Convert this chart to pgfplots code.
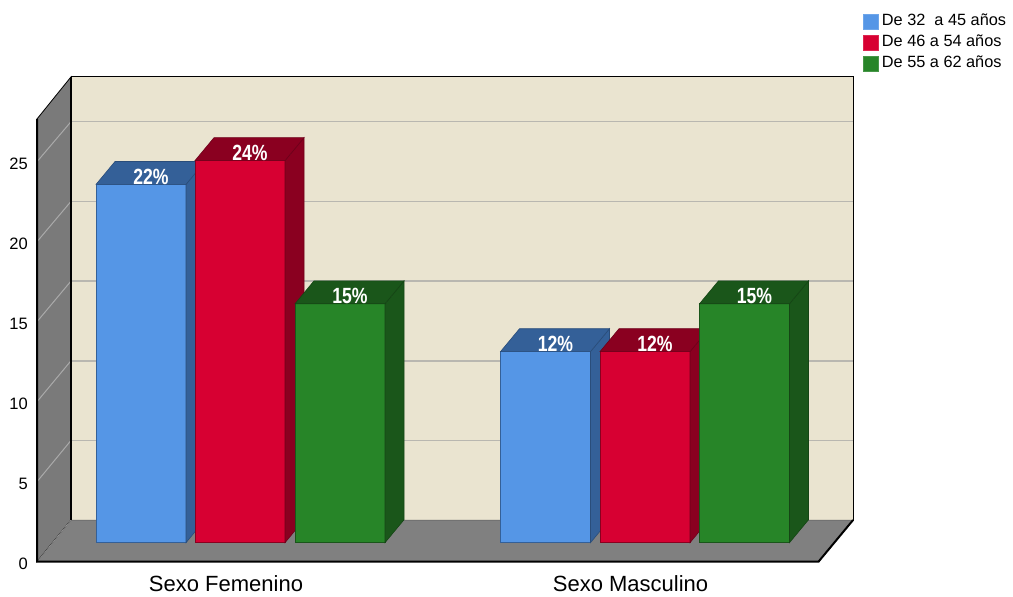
\documentclass[border=0pt]{standalone}
\usepackage{pgfplots}
\pgfplotsset{compat=1.18}
\usepackage{fontspec}
\setmainfont{Liberation Sans}
\definecolor{cblue}{RGB}{85,150,230}
\definecolor{cblueS}{RGB}{52,96,152}
\definecolor{cred}{RGB}{215,0,50}
\definecolor{credS}{RGB}{138,0,32}
\definecolor{cgreen}{RGB}{39,133,40}
\definecolor{cgreenS}{RGB}{26,86,26}
\definecolor{wallc}{RGB}{234,228,208}
\definecolor{floorc}{RGB}{128,128,128}
\definecolor{lwallc}{RGB}{122,122,122}
\definecolor{gridc}{RGB}{185,183,176}
\definecolor{lgridc}{RGB}{170,170,170}
\pgfplotsset{
  mylegend/.style={legend image code/.code={\draw[##1] (0pt,-7.5pt) rectangle (15pt,7.5pt);}}
}
\tikzset{barlabel/.style={text=white, font=\bfseries\fontsize{22}{22}\selectfont, xscale=0.8, transform shape, inner sep=0pt}}
% #1 x of front-left edge, #2 value, #3 front colour, #4 side colour, #5 label
\newcommand{\cube}[5]{%
  \pgfmathsetmacro\xa{#1}%
  \pgfmathsetmacro\xb{#1+90}%
  \pgfmathsetmacro\xc{#1+90+19}%
  \pgfmathsetmacro\xd{#1+19}%
  \pgfmathsetmacro\ya{1.19}%
  \pgfmathsetmacro\yb{1.19+#2}%
  \pgfmathsetmacro\yc{1.19+#2+1.43}%
  \pgfmathsetmacro\ye{1.19+1.43}%
  \pgfmathsetmacro\xm{#1+55}%
  \pgfmathsetmacro\ym{1.19+#2+0.48}%
  \edef\temp{%
    \noexpand\addplot[fill=#3, draw=#4, line width=0.6pt] coordinates {(\xa,\ya) (\xb,\ya) (\xb,\yb) (\xa,\yb)} -- cycle;
    \noexpand\addplot[fill=#4, draw=#4!80!black, line width=0.6pt] coordinates {(\xb,\ya) (\xc,\ye) (\xc,\yc) (\xb,\yb)} -- cycle;
    \noexpand\addplot[fill=#4, draw=#4!80!black, line width=0.6pt] coordinates {(\xa,\yb) (\xb,\yb) (\xc,\yc) (\xd,\yc)} -- cycle;
    \noexpand\node[barlabel] at (axis cs:\xm,\ym) {#5\noexpand\%};
  }\temp
}
\begin{document}
\begin{tikzpicture}
\useasboundingbox (0,0) rectangle (1013pt,597pt);
\begin{axis}[
  at={(37pt,35.3pt)}, anchor=south west,
  scale only axis, width=816pt, height=484.8pt,
  xmin=37, xmax=853, ymin=0, ymax=30.3,
  clip=false, no markers,
  axis line style={draw=none}, major tick length=0pt, tick style={draw=none},
  ytick={0,5,10,15,20,25},
  yticklabel style={anchor=base east, yshift=-8pt, xshift=-9pt, inner sep=0pt, font=\fontsize{16.5}{16.5}\selectfont},
  /pgf/number format/assume math mode=true,
  xtick={226,630.5},
  xticklabels={Sexo Femenino, Sexo Masculino},
  xticklabel style={anchor=base, yshift=-29.8pt, inner sep=0pt, font=\fontsize{22}{22}\selectfont},
  legend style={draw=none, fill=none, at={(axis cs:862.3,34.275)}, anchor=north west,
    inner sep=0pt, row sep=3.7pt, column sep=3pt,
    nodes={inner sep=1pt, text depth=3.5pt, text height=11.5pt},
    font=\fontsize{16.3}{16.3}\selectfont},
  legend cell align=left,
]
\addlegendimage{mylegend, fill=cblue, draw=cblue!85!white}
\addlegendentry{De 32\ \ a 45 años}
\addlegendimage{mylegend, fill=cred, draw=cred!85!white}
\addlegendentry{De 46 a 54 años}
\addlegendimage{mylegend, fill=cgreen, draw=cgreen!85!white}
\addlegendentry{De 55 a 62 años}
% left wall
\addplot[fill=lwallc, draw=black, line width=0.8pt] coordinates {(37,0) (71,2.6) (71,30.3) (37,27.67)} -- cycle;
% back wall
\addplot[fill=wallc, draw=black, line width=0.8pt] coordinates {(71,2.6) (853,2.6) (853,30.3) (71,30.3)} -- cycle;
% floor
\addplot[fill=floorc, draw=floorc!70!black, line width=0.6pt] coordinates {(37,0) (818.5,0) (853,2.6) (71,2.6)} -- cycle;
% grid on back wall
\addplot[gridc, line width=1.6pt] coordinates {(71.5,7.58) (852.5,7.58)};
\addplot[gridc, line width=1.6pt] coordinates {(71.5,12.56) (852.5,12.56)};
\addplot[gridc, line width=1.6pt] coordinates {(71.5,17.54) (852.5,17.54)};
\addplot[gridc, line width=1.6pt] coordinates {(71.5,22.52) (852.5,22.52)};
\addplot[gridc, line width=1.6pt] coordinates {(71.5,27.5) (852.5,27.5)};
% grid on left wall
\addplot[lgridc, line width=1pt] coordinates {(37,5) (71,7.58)};
\addplot[lgridc, line width=1pt] coordinates {(37,10) (71,12.56)};
\addplot[lgridc, line width=1pt] coordinates {(37,15) (71,17.54)};
\addplot[lgridc, line width=1pt] coordinates {(37,20) (71,22.52)};
\addplot[lgridc, line width=1pt] coordinates {(37,25) (71,27.5)};
\addplot[lgridc, densely dotted, line width=0.6pt] coordinates {(37,0) (71,2.6)};
% edges
\addplot[black, line width=1.8pt] coordinates {(71,2.6) (71,30.3)};
\addplot[black, line width=2pt] coordinates {(37,27.67) (37,0) (818.5,0) (853,2.6)};
% bars
\cube{96}{22.39}{cblue}{cblueS}{22}
\cube{195}{23.88}{cred}{credS}{24}
\cube{295}{14.93}{cgreen}{cgreenS}{15}
\cube{500.5}{11.94}{cblue}{cblueS}{12}
\cube{600}{11.94}{cred}{credS}{12}
\cube{699.5}{14.93}{cgreen}{cgreenS}{15}
\end{axis}
\end{tikzpicture}
\end{document}
